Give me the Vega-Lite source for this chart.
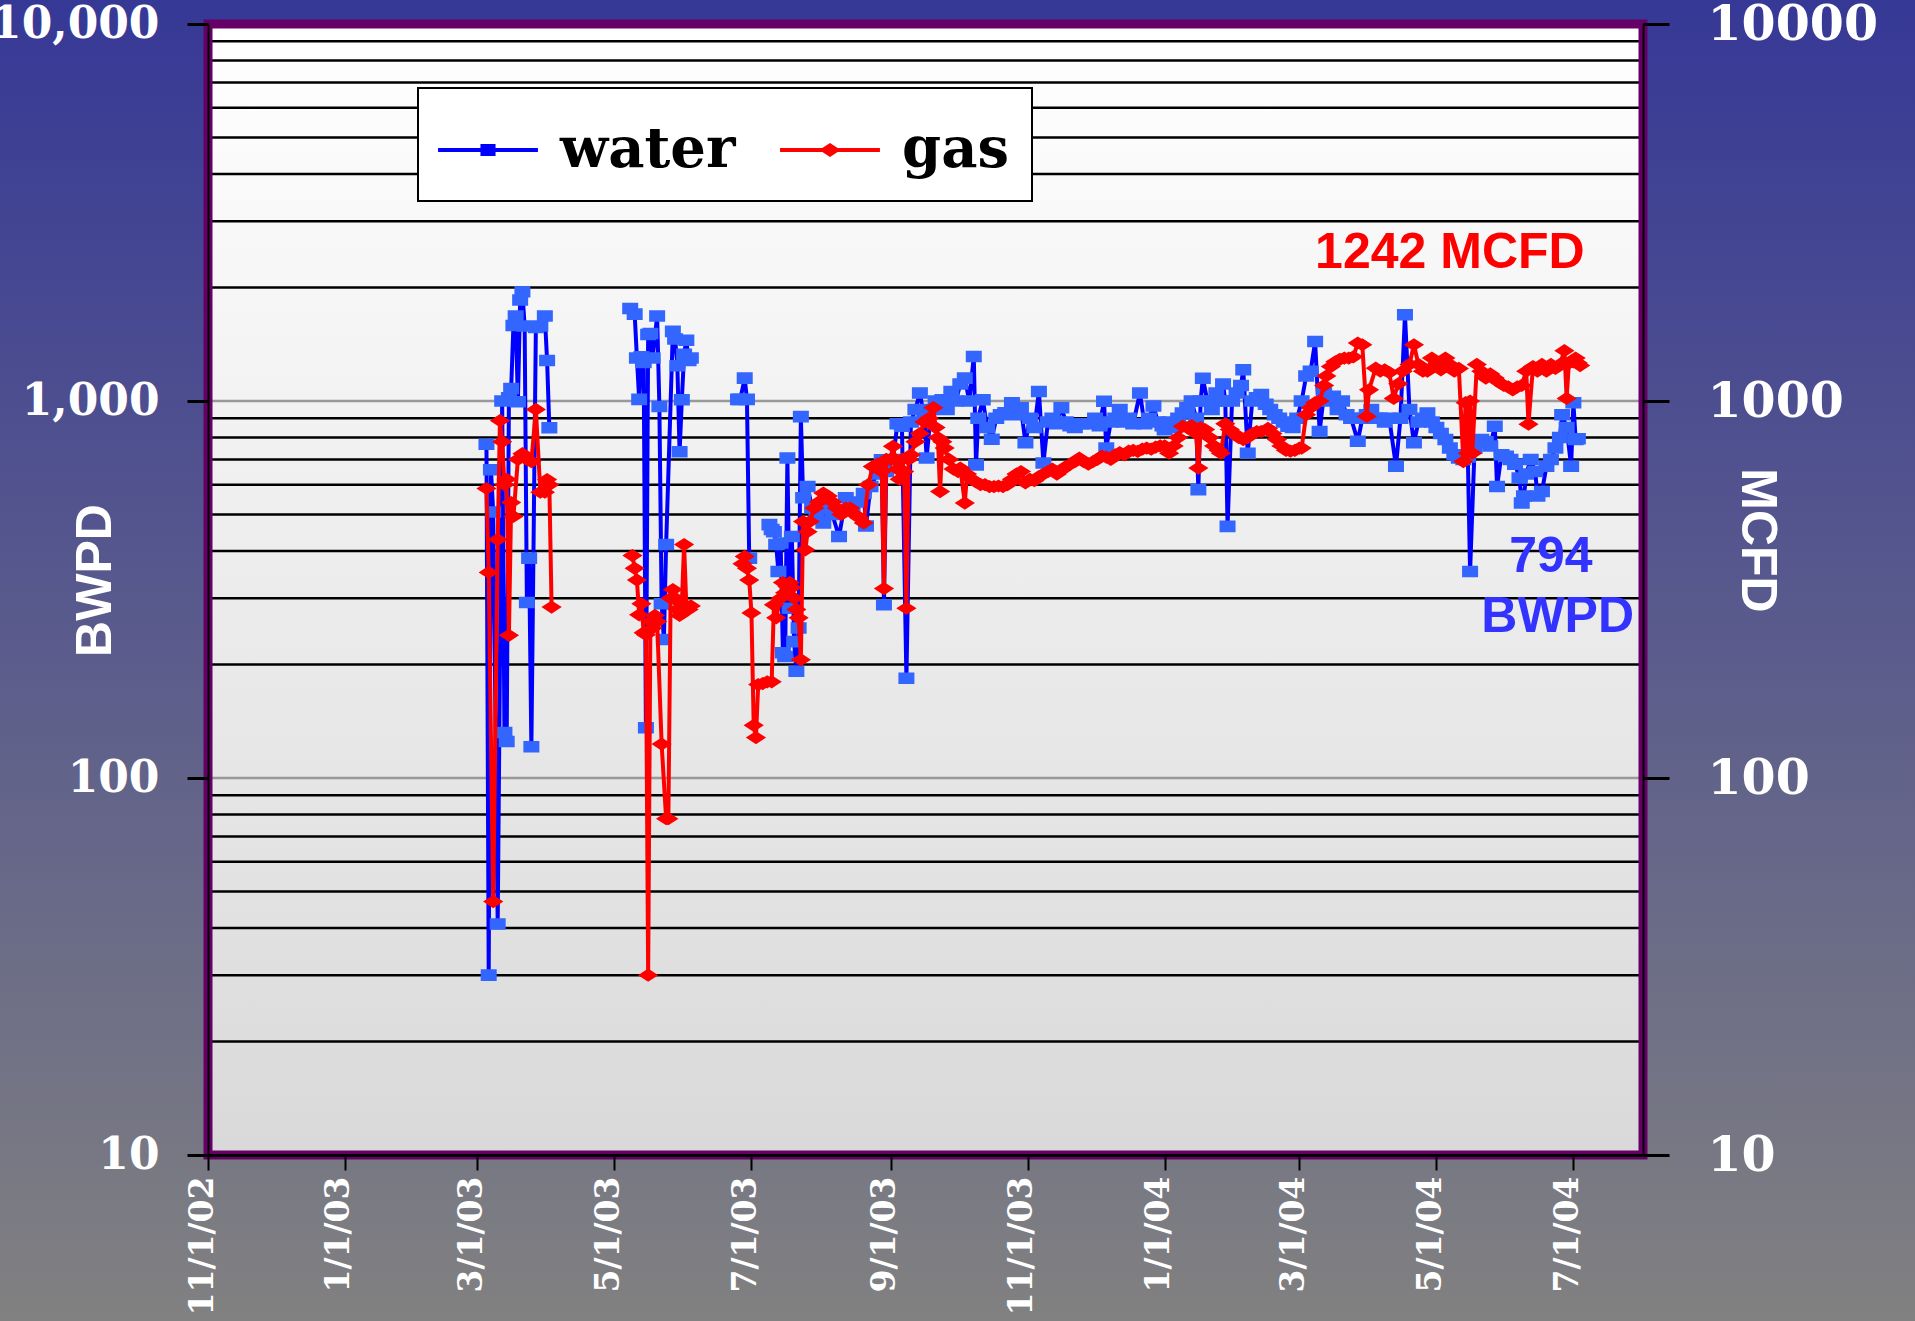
{
"$schema": "https://vega.github.io/schema/vega-lite/v6.json",
"width": 1435, "height": 1131,
"autosize": {"type": "none"},
"padding": {"left": 208, "top": 24, "right": 272, "bottom": 166},
"background": "#5b5b8c",
"config": {"view": {"stroke": null}, "legend": {"strokeWidth": 2}},
"datasets": {
"grid": [{"v":20},{"v":30},{"v":40},{"v":50},{"v":60},{"v":70},{"v":80},{"v":90},{"v":100},{"v":200},{"v":300},{"v":400},{"v":500},{"v":600},{"v":700},{"v":800},{"v":900},{"v":1000},{"v":2000},{"v":3000},{"v":4000},{"v":5000},{"v":6000},{"v":7000},{"v":8000},{"v":9000}],
"water": [
{"date":"2003/03/05","value":768,"seg":1},{"date":"2003/03/06","value":30,"seg":1},{"date":"2003/03/07","value":657,"seg":1},{"date":"2003/03/08","value":508,"seg":1},{"date":"2003/03/10","value":41,"seg":1},{"date":"2003/03/12","value":1000,"seg":1},{"date":"2003/03/13","value":132,"seg":1},{"date":"2003/03/14","value":125,"seg":1},{"date":"2003/03/15","value":1020,"seg":1},{"date":"2003/03/16","value":1080,"seg":1},{"date":"2003/03/17","value":1585,"seg":1},{"date":"2003/03/18","value":1680,"seg":1},{"date":"2003/03/19","value":996,"seg":1},{"date":"2003/03/20","value":1854,"seg":1},{"date":"2003/03/21","value":1950,"seg":1},{"date":"2003/03/22","value":1580,"seg":1},{"date":"2003/03/23","value":292,"seg":1},{"date":"2003/03/24","value":383,"seg":1},{"date":"2003/03/25","value":121,"seg":1},{"date":"2003/03/27","value":1567,"seg":1},{"date":"2003/03/29","value":1580,"seg":1},{"date":"2003/03/31","value":1680,"seg":1},{"date":"2003/04/01","value":1280,"seg":1},{"date":"2003/04/02","value":849,"seg":1},
{"date":"2003/05/08","value":1760,"seg":2},{"date":"2003/05/10","value":1700,"seg":2},{"date":"2003/05/11","value":1300,"seg":2},{"date":"2003/05/12","value":1010,"seg":2},{"date":"2003/05/13","value":1311,"seg":2},{"date":"2003/05/14","value":1265,"seg":2},{"date":"2003/05/15","value":136,"seg":2},{"date":"2003/05/16","value":1500,"seg":2},{"date":"2003/05/17","value":1510,"seg":2},{"date":"2003/05/18","value":1300,"seg":2},{"date":"2003/05/20","value":1680,"seg":2},{"date":"2003/05/21","value":967,"seg":2},{"date":"2003/05/22","value":290,"seg":2},{"date":"2003/05/23","value":233,"seg":2},{"date":"2003/05/24","value":416,"seg":2},{"date":"2003/05/27","value":1530,"seg":2},{"date":"2003/05/28","value":1460,"seg":2},{"date":"2003/05/29","value":1240,"seg":2},{"date":"2003/05/30","value":733,"seg":2},{"date":"2003/05/31","value":1008,"seg":2},{"date":"2003/06/01","value":1330,"seg":2},{"date":"2003/06/02","value":1450,"seg":2},{"date":"2003/06/03","value":1280,"seg":2},{"date":"2003/06/04","value":1300,"seg":2},
{"date":"2003/06/25","value":1010,"seg":3},{"date":"2003/06/26","value":1010,"seg":3},{"date":"2003/06/28","value":1150,"seg":3},{"date":"2003/06/29","value":1010,"seg":3},{"date":"2003/06/30","value":383,"seg":3},
{"date":"2003/07/09","value":470,"seg":4},{"date":"2003/07/10","value":456,"seg":4},{"date":"2003/07/11","value":450,"seg":4},{"date":"2003/07/12","value":416,"seg":4},{"date":"2003/07/13","value":353,"seg":4},{"date":"2003/07/14","value":420,"seg":4},{"date":"2003/07/15","value":215,"seg":4},{"date":"2003/07/16","value":210,"seg":4},{"date":"2003/07/17","value":706,"seg":4},{"date":"2003/07/18","value":282,"seg":4},{"date":"2003/07/19","value":437,"seg":4},{"date":"2003/07/20","value":230,"seg":4},{"date":"2003/07/21","value":192,"seg":4},{"date":"2003/07/22","value":250,"seg":4},{"date":"2003/07/23","value":909,"seg":4},{"date":"2003/07/24","value":554,"seg":4},{"date":"2003/07/26","value":593,"seg":4},{"date":"2003/07/28","value":520,"seg":4},{"date":"2003/07/30","value":500,"seg":4},{"date":"2003/08/02","value":475,"seg":4},{"date":"2003/08/04","value":520,"seg":4},{"date":"2003/08/06","value":500,"seg":4},{"date":"2003/08/09","value":437,"seg":4},{"date":"2003/08/12","value":554,"seg":4},{"date":"2003/08/15","value":520,"seg":4},{"date":"2003/08/18","value":540,"seg":4},{"date":"2003/08/20","value":568,"seg":4},{"date":"2003/08/21","value":466,"seg":4},{"date":"2003/08/23","value":593,"seg":4},{"date":"2003/08/26","value":640,"seg":4},{"date":"2003/08/28","value":698,"seg":4},{"date":"2003/08/29","value":288,"seg":4},{"date":"2003/08/30","value":650,"seg":4},
{"date":"2003/09/02","value":700,"seg":4},{"date":"2003/09/04","value":870,"seg":4},{"date":"2003/09/06","value":857,"seg":4},{"date":"2003/09/08","value":184,"seg":4},{"date":"2003/09/10","value":880,"seg":4},{"date":"2003/09/12","value":950,"seg":4},{"date":"2003/09/14","value":1050,"seg":4},{"date":"2003/09/16","value":900,"seg":4},{"date":"2003/09/17","value":706,"seg":4},{"date":"2003/09/19","value":950,"seg":4},{"date":"2003/09/21","value":1000,"seg":4},{"date":"2003/09/24","value":1008,"seg":4},{"date":"2003/09/26","value":950,"seg":4},{"date":"2003/09/28","value":1060,"seg":4},{"date":"2003/09/30","value":1000,"seg":4},{"date":"2003/10/02","value":1110,"seg":4},{"date":"2003/10/04","value":1150,"seg":4},{"date":"2003/10/06","value":1000,"seg":4},{"date":"2003/10/08","value":1313,"seg":4},{"date":"2003/10/09","value":677,"seg":4},{"date":"2003/10/10","value":900,"seg":4},{"date":"2003/10/12","value":1008,"seg":4},{"date":"2003/10/14","value":850,"seg":4},{"date":"2003/10/16","value":792,"seg":4},{"date":"2003/10/18","value":900,"seg":4},{"date":"2003/10/20","value":920,"seg":4},{"date":"2003/10/22","value":930,"seg":4},{"date":"2003/10/25","value":990,"seg":4},{"date":"2003/10/27","value":920,"seg":4},{"date":"2003/10/29","value":960,"seg":4},{"date":"2003/10/31","value":775,"seg":4},
{"date":"2003/11/02","value":900,"seg":4},{"date":"2003/11/04","value":850,"seg":4},{"date":"2003/11/06","value":1060,"seg":4},{"date":"2003/11/08","value":685,"seg":4},{"date":"2003/11/10","value":880,"seg":4},{"date":"2003/11/12","value":900,"seg":4},{"date":"2003/11/14","value":870,"seg":4},{"date":"2003/11/16","value":960,"seg":4},{"date":"2003/11/18","value":880,"seg":4},{"date":"2003/11/20","value":860,"seg":4},{"date":"2003/11/22","value":850,"seg":4},{"date":"2003/11/25","value":870,"seg":4},{"date":"2003/11/28","value":870,"seg":4},{"date":"2003/12/01","value":900,"seg":4},{"date":"2003/12/03","value":860,"seg":4},{"date":"2003/12/05","value":998,"seg":4},{"date":"2003/12/06","value":750,"seg":4},{"date":"2003/12/08","value":880,"seg":4},{"date":"2003/12/10","value":900,"seg":4},{"date":"2003/12/12","value":950,"seg":4},{"date":"2003/12/14","value":880,"seg":4},{"date":"2003/12/16","value":900,"seg":4},{"date":"2003/12/18","value":870,"seg":4},{"date":"2003/12/21","value":1050,"seg":4},{"date":"2003/12/23","value":870,"seg":4},{"date":"2003/12/25","value":900,"seg":4},{"date":"2003/12/27","value":970,"seg":4},{"date":"2003/12/29","value":880,"seg":4},{"date":"2003/12/31","value":860,"seg":4},
{"date":"2004/01/01","value":839,"seg":4},{"date":"2004/01/03","value":880,"seg":4},{"date":"2004/01/05","value":850,"seg":4},{"date":"2004/01/07","value":900,"seg":4},{"date":"2004/01/09","value":929,"seg":4},{"date":"2004/01/11","value":960,"seg":4},{"date":"2004/01/13","value":1000,"seg":4},{"date":"2004/01/15","value":900,"seg":4},{"date":"2004/01/16","value":582,"seg":4},{"date":"2004/01/17","value":1000,"seg":4},{"date":"2004/01/18","value":1149,"seg":4},{"date":"2004/01/20","value":1000,"seg":4},{"date":"2004/01/22","value":950,"seg":4},{"date":"2004/01/24","value":1050,"seg":4},{"date":"2004/01/26","value":1000,"seg":4},{"date":"2004/01/27","value":1110,"seg":4},{"date":"2004/01/28","value":1000,"seg":4},{"date":"2004/01/29","value":465,"seg":4},{"date":"2004/01/31","value":1000,"seg":4},{"date":"2004/02/02","value":1050,"seg":4},{"date":"2004/02/04","value":1100,"seg":4},{"date":"2004/02/05","value":1211,"seg":4},{"date":"2004/02/07","value":727,"seg":4},{"date":"2004/02/09","value":1000,"seg":4},{"date":"2004/02/11","value":1020,"seg":4},{"date":"2004/02/13","value":1040,"seg":4},{"date":"2004/02/15","value":980,"seg":4},{"date":"2004/02/17","value":950,"seg":4},{"date":"2004/02/19","value":920,"seg":4},{"date":"2004/02/21","value":900,"seg":4},{"date":"2004/02/23","value":880,"seg":4},{"date":"2004/02/25","value":857,"seg":4},{"date":"2004/02/27","value":850,"seg":4},{"date":"2004/02/29","value":900,"seg":4},
{"date":"2004/03/02","value":1000,"seg":4},{"date":"2004/03/04","value":1165,"seg":4},{"date":"2004/03/06","value":1200,"seg":4},{"date":"2004/03/08","value":1438,"seg":4},{"date":"2004/03/10","value":830,"seg":4},{"date":"2004/03/12","value":1050,"seg":4},{"date":"2004/03/14","value":1000,"seg":4},{"date":"2004/03/16","value":1030,"seg":4},{"date":"2004/03/18","value":950,"seg":4},{"date":"2004/03/20","value":1000,"seg":4},{"date":"2004/03/22","value":920,"seg":4},{"date":"2004/03/24","value":900,"seg":4},{"date":"2004/03/27","value":782,"seg":4},{"date":"2004/03/29","value":900,"seg":4},{"date":"2004/03/31","value":920,"seg":4},{"date":"2004/04/02","value":950,"seg":4},{"date":"2004/04/04","value":900,"seg":4},{"date":"2004/04/06","value":900,"seg":4},{"date":"2004/04/08","value":880,"seg":4},{"date":"2004/04/10","value":900,"seg":4},{"date":"2004/04/13","value":671,"seg":4},{"date":"2004/04/15","value":900,"seg":4},{"date":"2004/04/17","value":1693,"seg":4},{"date":"2004/04/19","value":950,"seg":4},{"date":"2004/04/21","value":775,"seg":4},{"date":"2004/04/23","value":880,"seg":4},{"date":"2004/04/25","value":900,"seg":4},{"date":"2004/04/27","value":929,"seg":4},{"date":"2004/04/29","value":880,"seg":4},
{"date":"2004/05/01","value":850,"seg":4},{"date":"2004/05/03","value":820,"seg":4},{"date":"2004/05/05","value":790,"seg":4},{"date":"2004/05/07","value":750,"seg":4},{"date":"2004/05/09","value":720,"seg":4},{"date":"2004/05/11","value":706,"seg":4},{"date":"2004/05/13","value":700,"seg":4},{"date":"2004/05/15","value":710,"seg":4},{"date":"2004/05/16","value":353,"seg":4},{"date":"2004/05/18","value":750,"seg":4},{"date":"2004/05/21","value":790,"seg":4},{"date":"2004/05/23","value":780,"seg":4},{"date":"2004/05/25","value":760,"seg":4},{"date":"2004/05/27","value":857,"seg":4},{"date":"2004/05/28","value":593,"seg":4},{"date":"2004/05/30","value":720,"seg":4},{"date":"2004/06/01","value":714,"seg":4},{"date":"2004/06/03","value":700,"seg":4},{"date":"2004/06/05","value":680,"seg":4},{"date":"2004/06/07","value":625,"seg":4},{"date":"2004/06/08","value":536,"seg":4},{"date":"2004/06/09","value":560,"seg":4},{"date":"2004/06/10","value":640,"seg":4},{"date":"2004/06/12","value":700,"seg":4},{"date":"2004/06/14","value":650,"seg":4},{"date":"2004/06/15","value":560,"seg":4},{"date":"2004/06/17","value":575,"seg":4},{"date":"2004/06/19","value":671,"seg":4},{"date":"2004/06/21","value":700,"seg":4},{"date":"2004/06/23","value":750,"seg":4},{"date":"2004/06/25","value":800,"seg":4},{"date":"2004/06/26","value":920,"seg":4},{"date":"2004/06/28","value":850,"seg":4},{"date":"2004/06/30","value":671,"seg":4},{"date":"2004/07/01","value":990,"seg":4},{"date":"2004/07/02","value":790,"seg":4},{"date":"2004/07/03","value":794,"seg":4}
],
"gas": [
{"date":"2003/03/05","value":586,"seg":1},{"date":"2003/03/06","value":351,"seg":1},{"date":"2003/03/08","value":47,"seg":1},{"date":"2003/03/10","value":429,"seg":1},{"date":"2003/03/11","value":887,"seg":1},{"date":"2003/03/12","value":780,"seg":1},{"date":"2003/03/13","value":600,"seg":1},{"date":"2003/03/14","value":620,"seg":1},{"date":"2003/03/15","value":239,"seg":1},{"date":"2003/03/16","value":538,"seg":1},{"date":"2003/03/17","value":494,"seg":1},{"date":"2003/03/19","value":700,"seg":1},{"date":"2003/03/21","value":725,"seg":1},{"date":"2003/03/23","value":700,"seg":1},{"date":"2003/03/25","value":690,"seg":1},{"date":"2003/03/27","value":950,"seg":1},{"date":"2003/03/29","value":573,"seg":1},{"date":"2003/03/31","value":573,"seg":1},{"date":"2003/04/01","value":619,"seg":1},{"date":"2003/04/02","value":600,"seg":1},{"date":"2003/04/03","value":284,"seg":1},
{"date":"2003/05/09","value":389,"seg":2},{"date":"2003/05/10","value":360,"seg":2},{"date":"2003/05/11","value":335,"seg":2},{"date":"2003/05/12","value":271,"seg":2},{"date":"2003/05/13","value":290,"seg":2},{"date":"2003/05/14","value":243,"seg":2},{"date":"2003/05/15","value":240,"seg":2},{"date":"2003/05/16","value":30,"seg":2},{"date":"2003/05/17","value":260,"seg":2},{"date":"2003/05/18","value":250,"seg":2},{"date":"2003/05/19","value":270,"seg":2},{"date":"2003/05/20","value":260,"seg":2},{"date":"2003/05/22","value":123,"seg":2},{"date":"2003/05/24","value":78,"seg":2},{"date":"2003/05/25","value":78,"seg":2},{"date":"2003/05/26","value":300,"seg":2},{"date":"2003/05/27","value":316,"seg":2},{"date":"2003/05/28","value":300,"seg":2},{"date":"2003/05/29","value":280,"seg":2},{"date":"2003/05/30","value":270,"seg":2},{"date":"2003/05/31","value":290,"seg":2},{"date":"2003/06/01","value":416,"seg":2},{"date":"2003/06/02","value":286,"seg":2},{"date":"2003/06/03","value":280,"seg":2},{"date":"2003/06/04","value":286,"seg":2},
{"date":"2003/06/27","value":370,"seg":3},{"date":"2003/06/28","value":387,"seg":3},{"date":"2003/06/29","value":360,"seg":3},{"date":"2003/06/30","value":335,"seg":3},{"date":"2003/07/01","value":274,"seg":3},{"date":"2003/07/02","value":138,"seg":3},{"date":"2003/07/03","value":128,"seg":3},{"date":"2003/07/04","value":177,"seg":3},{"date":"2003/07/06","value":178,"seg":3},{"date":"2003/07/08","value":180,"seg":3},{"date":"2003/07/10","value":180,"seg":3},{"date":"2003/07/11","value":288,"seg":3},{"date":"2003/07/12","value":266,"seg":3},{"date":"2003/07/14","value":300,"seg":3},{"date":"2003/07/15","value":330,"seg":3},{"date":"2003/07/16","value":310,"seg":3},{"date":"2003/07/17","value":322,"seg":3},{"date":"2003/07/18","value":330,"seg":3},{"date":"2003/07/19","value":320,"seg":3},{"date":"2003/07/20","value":300,"seg":3},{"date":"2003/07/21","value":280,"seg":3},{"date":"2003/07/22","value":266,"seg":3},{"date":"2003/07/23","value":206,"seg":3},{"date":"2003/07/24","value":479,"seg":3},{"date":"2003/07/25","value":403,"seg":3},{"date":"2003/07/26","value":450,"seg":3},{"date":"2003/07/27","value":479,"seg":3},{"date":"2003/07/29","value":520,"seg":3},{"date":"2003/07/31","value":540,"seg":3},{"date":"2003/08/02","value":570,"seg":3},{"date":"2003/08/04","value":560,"seg":3},{"date":"2003/08/06","value":540,"seg":3},{"date":"2003/08/08","value":520,"seg":3},{"date":"2003/08/10","value":500,"seg":3},{"date":"2003/08/12","value":520,"seg":3},{"date":"2003/08/14","value":520,"seg":3},{"date":"2003/08/16","value":500,"seg":3},{"date":"2003/08/18","value":490,"seg":3},{"date":"2003/08/20","value":475,"seg":3},{"date":"2003/08/22","value":600,"seg":3},{"date":"2003/08/24","value":670,"seg":3},{"date":"2003/08/26","value":680,"seg":3},{"date":"2003/08/28","value":650,"seg":3},{"date":"2003/08/29","value":318,"seg":3},{"date":"2003/08/30","value":700,"seg":3},{"date":"2003/09/01","value":700,"seg":3},
{"date":"2003/09/02","value":758,"seg":3},{"date":"2003/09/03","value":700,"seg":3},{"date":"2003/09/04","value":660,"seg":3},{"date":"2003/09/05","value":620,"seg":3},{"date":"2003/09/06","value":700,"seg":3},{"date":"2003/09/07","value":650,"seg":3},{"date":"2003/09/08","value":282,"seg":3},{"date":"2003/09/09","value":700,"seg":3},{"date":"2003/09/10","value":720,"seg":3},{"date":"2003/09/12","value":780,"seg":3},{"date":"2003/09/14","value":820,"seg":3},{"date":"2003/09/16","value":880,"seg":3},{"date":"2003/09/18","value":900,"seg":3},{"date":"2003/09/20","value":960,"seg":3},{"date":"2003/09/21","value":850,"seg":3},{"date":"2003/09/22","value":800,"seg":3},{"date":"2003/09/23","value":575,"seg":3},{"date":"2003/09/24","value":780,"seg":3},{"date":"2003/09/25","value":750,"seg":3},{"date":"2003/09/27","value":700,"seg":3},{"date":"2003/09/29","value":660,"seg":3},{"date":"2003/10/01","value":650,"seg":3},{"date":"2003/10/02","value":664,"seg":3},{"date":"2003/10/04","value":536,"seg":3},{"date":"2003/10/05","value":640,"seg":3},{"date":"2003/10/07","value":620,"seg":3},{"date":"2003/10/09","value":610,"seg":3},{"date":"2003/10/11","value":600,"seg":3},{"date":"2003/10/13","value":600,"seg":3},{"date":"2003/10/15","value":593,"seg":3},{"date":"2003/10/17","value":593,"seg":3},{"date":"2003/10/19","value":595,"seg":3},{"date":"2003/10/21","value":593,"seg":3},{"date":"2003/10/23","value":600,"seg":3},{"date":"2003/10/25","value":620,"seg":3},{"date":"2003/10/27","value":640,"seg":3},{"date":"2003/10/29","value":650,"seg":3},{"date":"2003/10/31","value":606,"seg":3},
{"date":"2003/11/02","value":620,"seg":3},{"date":"2003/11/04","value":615,"seg":3},{"date":"2003/11/06","value":630,"seg":3},{"date":"2003/11/08","value":640,"seg":3},{"date":"2003/11/10","value":650,"seg":3},{"date":"2003/11/12","value":660,"seg":3},{"date":"2003/11/14","value":640,"seg":3},{"date":"2003/11/16","value":655,"seg":3},{"date":"2003/11/18","value":670,"seg":3},{"date":"2003/11/20","value":680,"seg":3},{"date":"2003/11/22","value":690,"seg":3},{"date":"2003/11/24","value":706,"seg":3},{"date":"2003/11/26","value":690,"seg":3},{"date":"2003/11/28","value":680,"seg":3},{"date":"2003/11/30","value":690,"seg":3},{"date":"2003/12/02","value":700,"seg":3},{"date":"2003/12/04","value":714,"seg":3},{"date":"2003/12/06","value":710,"seg":3},{"date":"2003/12/08","value":700,"seg":3},{"date":"2003/12/10","value":720,"seg":3},{"date":"2003/12/12","value":730,"seg":3},{"date":"2003/12/14","value":720,"seg":3},{"date":"2003/12/16","value":736,"seg":3},{"date":"2003/12/18","value":740,"seg":3},{"date":"2003/12/20","value":735,"seg":3},{"date":"2003/12/22","value":745,"seg":3},{"date":"2003/12/24","value":750,"seg":3},{"date":"2003/12/26","value":745,"seg":3},{"date":"2003/12/28","value":755,"seg":3},{"date":"2003/12/30","value":760,"seg":3},
{"date":"2004/01/01","value":760,"seg":3},{"date":"2004/01/03","value":727,"seg":3},{"date":"2004/01/05","value":760,"seg":3},{"date":"2004/01/07","value":800,"seg":3},{"date":"2004/01/09","value":857,"seg":3},{"date":"2004/01/11","value":850,"seg":3},{"date":"2004/01/13","value":860,"seg":3},{"date":"2004/01/15","value":820,"seg":3},{"date":"2004/01/16","value":664,"seg":3},{"date":"2004/01/17","value":850,"seg":3},{"date":"2004/01/19","value":840,"seg":3},{"date":"2004/01/21","value":800,"seg":3},{"date":"2004/01/23","value":760,"seg":3},{"date":"2004/01/25","value":740,"seg":3},{"date":"2004/01/26","value":727,"seg":3},{"date":"2004/01/28","value":870,"seg":3},{"date":"2004/01/30","value":840,"seg":3},{"date":"2004/02/01","value":820,"seg":3},{"date":"2004/02/03","value":800,"seg":3},{"date":"2004/02/05","value":790,"seg":3},{"date":"2004/02/07","value":800,"seg":3},{"date":"2004/02/09","value":820,"seg":3},{"date":"2004/02/11","value":830,"seg":3},{"date":"2004/02/13","value":830,"seg":3},{"date":"2004/02/16","value":846,"seg":3},{"date":"2004/02/18","value":820,"seg":3},{"date":"2004/02/20","value":790,"seg":3},{"date":"2004/02/22","value":760,"seg":3},{"date":"2004/02/24","value":740,"seg":3},{"date":"2004/02/26","value":736,"seg":3},{"date":"2004/02/28","value":740,"seg":3},
{"date":"2004/03/01","value":750,"seg":3},{"date":"2004/03/02","value":750,"seg":3},{"date":"2004/03/04","value":920,"seg":3},{"date":"2004/03/06","value":960,"seg":3},{"date":"2004/03/08","value":990,"seg":3},{"date":"2004/03/10","value":1000,"seg":3},{"date":"2004/03/12","value":1100,"seg":3},{"date":"2004/03/13","value":1165,"seg":3},{"date":"2004/03/15","value":1234,"seg":3},{"date":"2004/03/17","value":1270,"seg":3},{"date":"2004/03/19","value":1290,"seg":3},{"date":"2004/03/21","value":1300,"seg":3},{"date":"2004/03/23","value":1300,"seg":3},{"date":"2004/03/25","value":1310,"seg":3},{"date":"2004/03/27","value":1425,"seg":3},{"date":"2004/03/29","value":1410,"seg":3},{"date":"2004/03/31","value":910,"seg":3},{"date":"2004/04/01","value":1071,"seg":3},{"date":"2004/04/04","value":1222,"seg":3},{"date":"2004/04/06","value":1200,"seg":3},{"date":"2004/04/08","value":1210,"seg":3},{"date":"2004/04/10","value":1190,"seg":3},{"date":"2004/04/12","value":1016,"seg":3},{"date":"2004/04/14","value":1111,"seg":3},{"date":"2004/04/16","value":1200,"seg":3},{"date":"2004/04/19","value":1250,"seg":3},{"date":"2004/04/21","value":1410,"seg":3},{"date":"2004/04/23","value":1250,"seg":3},{"date":"2004/04/25","value":1200,"seg":3},{"date":"2004/04/27","value":1200,"seg":3},{"date":"2004/04/29","value":1300,"seg":3},
{"date":"2004/05/01","value":1250,"seg":3},{"date":"2004/05/03","value":1210,"seg":3},{"date":"2004/05/05","value":1300,"seg":3},{"date":"2004/05/07","value":1250,"seg":3},{"date":"2004/05/09","value":1200,"seg":3},{"date":"2004/05/11","value":1220,"seg":3},{"date":"2004/05/13","value":691,"seg":3},{"date":"2004/05/14","value":990,"seg":3},{"date":"2004/05/15","value":727,"seg":3},{"date":"2004/05/16","value":1000,"seg":3},{"date":"2004/05/17","value":727,"seg":3},{"date":"2004/05/19","value":1250,"seg":3},{"date":"2004/05/21","value":1200,"seg":3},{"date":"2004/05/23","value":1150,"seg":3},{"date":"2004/05/25","value":1180,"seg":3},{"date":"2004/05/27","value":1150,"seg":3},{"date":"2004/05/29","value":1120,"seg":3},{"date":"2004/05/31","value":1100,"seg":3},{"date":"2004/06/02","value":1090,"seg":3},{"date":"2004/06/04","value":1070,"seg":3},{"date":"2004/06/06","value":1090,"seg":3},{"date":"2004/06/08","value":1100,"seg":3},{"date":"2004/06/10","value":1200,"seg":3},{"date":"2004/06/11","value":868,"seg":3},{"date":"2004/06/13","value":1234,"seg":3},{"date":"2004/06/15","value":1200,"seg":3},{"date":"2004/06/17","value":1250,"seg":3},{"date":"2004/06/19","value":1200,"seg":3},{"date":"2004/06/21","value":1250,"seg":3},{"date":"2004/06/23","value":1220,"seg":3},{"date":"2004/06/25","value":1250,"seg":3},{"date":"2004/06/27","value":1360,"seg":3},{"date":"2004/06/28","value":1016,"seg":3},{"date":"2004/06/29","value":1260,"seg":3},{"date":"2004/07/01","value":1270,"seg":3},{"date":"2004/07/02","value":1300,"seg":3},{"date":"2004/07/03","value":1262,"seg":3},{"date":"2004/07/04","value":1242,"seg":3}
]
},
"layer": [
{"data": {"values": [{}]},
 "mark": {"type": "rect", "fill": {"gradient": "linear", "x1": 0, "y1": 0, "x2": 0, "y2": 1, "stops": [{"offset": 0, "color": "#363896"}, {"offset": 1, "color": "#818181"}]}},
 "encoding": {
  "x": {"datum": {"year": 2002, "month": 1, "date": 1}, "type": "temporal", "scale": {"domain": [{"year": 2002, "month": 11, "date": 1}, {"year": 2004, "month": 8, "date": 1}], "nice": false}, "axis": null},
  "x2": {"datum": {"year": 2005, "month": 6, "date": 1}},
  "y": {"datum": 11578, "type": "quantitative", "scale": {"type": "log", "domain": [10, 10000], "nice": false}, "axis": null},
  "y2": {"datum": 3.628}}},
{"data": {"values": [{}]},
 "mark": {"type": "rect", "fill": {"gradient": "linear", "x1": 0, "y1": 0, "x2": 0, "y2": 1, "stops": [{"offset": 0, "color": "#ffffff"}, {"offset": 1, "color": "#d9d9d9"}]}},
 "encoding": {
  "x": {"datum": {"year": 2002, "month": 11, "date": 1}, "type": "temporal", "axis": null},
  "x2": {"datum": {"year": 2004, "month": 8, "date": 1}},
  "y": {"datum": 10000, "type": "quantitative", "axis": null},
  "y2": {"datum": 10}}},
{"data": {"name": "grid"},
 "mark": {"type": "rule", "strokeWidth": 2.5},
 "encoding": {
  "y": {"field": "v", "type": "quantitative", "axis": null},
  "color": {"condition": {"test": "datum.v === 100 || datum.v === 1000", "value": "#999999"}, "value": "#000000"}}},
{"data": {"values": [{}]},
 "mark": {"type": "rect", "filled": false, "color": "#660066", "strokeWidth": 9},
 "encoding": {
  "x": {"datum": {"year": 2002, "month": 11, "date": 1}, "type": "temporal", "axis": null},
  "x2": {"datum": {"year": 2004, "month": 8, "date": 1}},
  "y": {"datum": 10000, "type": "quantitative", "axis": null},
  "y2": {"datum": 10}}},
{"data": {"name": "water"},
 "mark": {"type": "line", "strokeWidth": 4, "strokeJoin": "round"},
 "encoding": {
  "x": {"field": "date", "type": "temporal", "axis": {"orient": "bottom", "values": [{"year": 2002, "month": 11, "date": 1}, {"year": 2003, "month": 1, "date": 1}, {"year": 2003, "month": 3, "date": 1}, {"year": 2003, "month": 5, "date": 1}, {"year": 2003, "month": 7, "date": 1}, {"year": 2003, "month": 9, "date": 1}, {"year": 2003, "month": 11, "date": 1}, {"year": 2004, "month": 1, "date": 1}, {"year": 2004, "month": 3, "date": 1}, {"year": 2004, "month": 5, "date": 1}, {"year": 2004, "month": 7, "date": 1}], "format": "%-m/%-d/%y", "labelAngle": -90, "labelAlign": "right", "labelBaseline": "middle", "labelFont": "DejaVu Serif", "labelFontWeight": "bold", "labelFontSize": 33, "labelColor": "#ffffff", "labelPadding": 6, "labelOffset": -6, "labelFlush": false, "labelOverlap": false, "tickSize": 15, "tickWidth": 2, "tickColor": "#000000", "domainColor": "#000000", "domainWidth": 3, "grid": false, "title": null, "zindex": 1}},
  "y": {"field": "value", "type": "quantitative", "axis": {"orient": "left", "values": [10, 100, 1000, 10000], "format": ",", "grid": false, "zindex": 1, "domainColor": "#000000", "domainWidth": 2, "tickColor": "#000000", "tickWidth": 3, "tickSize": 21, "labelFont": "DejaVu Serif", "labelFontWeight": "bold", "labelFontSize": 44, "labelColor": "#ffffff", "labelPadding": 28, "labelOverlap": false, "labelFlush": false, "labelBaseline": "middle", "title": "BWPD", "titleFont": "Liberation Sans", "titleFontSize": 50, "titleFontWeight": "bold", "titleColor": "#ffffff", "titleAngle": -90, "titleX": -113, "titleY": 556, "titleAlign": "center", "titleBaseline": "middle"}},
  "detail": {"field": "seg"},
  "color": {"datum": "water", "type": "nominal", "scale": {"domain": ["water", "gas"], "range": ["#0000ff", "#ff0000"]},
   "legend": {"orient": "none", "legendX": 210, "legendY": 64, "direction": "horizontal", "title": null, "fillColor": "#ffffff", "strokeColor": "#000000", "padding": 23, "symbolType": "M-1,0H1", "symbolSize": 5476, "symbolStrokeWidth": 4, "symbolOffset": 8, "labelFont": "DejaVu Serif", "labelFontWeight": "bold", "labelFontSize": 56, "labelColor": "#000000", "labelOffset": 33, "labelLimit": 400, "columnPadding": 36}}}},
{"data": {"name": "water"},
 "mark": {"type": "point", "filled": true, "size": 11378, "color": "#3366ff", "strokeWidth": 0, "opacity": 1},
 "encoding": {
  "x": {"field": "date", "type": "temporal", "axis": null},
  "y": {"field": "value", "type": "quantitative", "axis": null},
  "shape": {"datum": "water", "type": "nominal", "scale": {"domain": ["water", "gas"], "range": ["M-1.35,0H1.35M-0.15,-0.108H0.15V0.108H-0.15Z", "M-1.35,0H1.35M-0.19,0L0,-0.124L0.19,0L0,0.124Z"]}}}},
{"data": {"name": "gas"},
 "mark": {"type": "line", "strokeWidth": 4, "strokeJoin": "round"},
 "encoding": {
  "x": {"field": "date", "type": "temporal", "axis": null},
  "y": {"field": "value", "type": "quantitative", "axis": {"orient": "right", "values": [10, 100, 1000, 10000], "format": "d", "grid": false, "zindex": 1, "domainColor": "#000000", "domainWidth": 2, "tickColor": "#000000", "tickWidth": 3, "tickSize": 26, "labelFont": "DejaVu Serif", "labelFontWeight": "bold", "labelFontSize": 49, "labelColor": "#ffffff", "labelPadding": 38, "labelOverlap": false, "labelFlush": false, "labelBaseline": "middle", "title": "MCFD", "titleFont": "Liberation Sans", "titleFontSize": 50, "titleFontWeight": "bold", "titleColor": "#ffffff", "titleAngle": 90, "titleX": 113, "titleY": 516, "titleAlign": "center", "titleBaseline": "middle"}},
  "detail": {"field": "seg"},
  "color": {"datum": "gas", "type": "nominal", "scale": {"domain": ["water", "gas"], "range": ["#0000ff", "#ff0000"]}}}},
{"data": {"name": "gas"},
 "mark": {"type": "point", "filled": true, "size": 11378, "color": "#ff0000", "strokeWidth": 0, "opacity": 1},
 "encoding": {
  "x": {"field": "date", "type": "temporal", "axis": null},
  "y": {"field": "value", "type": "quantitative", "axis": null},
  "shape": {"datum": "gas", "type": "nominal", "scale": {"domain": ["water", "gas"], "range": ["M-1.35,0H1.35M-0.15,-0.108H0.15V0.108H-0.15Z", "M-1.35,0H1.35M-0.19,0L0,-0.124L0.19,0L0,0.124Z"]}}}},
{"data": {"values": [{}]},
 "mark": {"type": "text", "text": "1242 MCFD", "font": "Liberation Sans", "fontWeight": "bold", "fontSize": 50, "color": "#ff0000", "align": "center", "baseline": "middle"},
 "encoding": {
  "x": {"datum": {"year": 2004, "month": 5, "date": 7}, "type": "temporal", "axis": null},
  "y": {"datum": 2470, "type": "quantitative", "axis": null}}},
{"data": {"values": [{}]},
 "mark": {"type": "text", "text": "794", "font": "Liberation Sans", "fontWeight": "bold", "fontSize": 50, "color": "#3333ff", "align": "center", "baseline": "middle"},
 "encoding": {
  "x": {"datum": {"year": 2004, "month": 6, "date": 21}, "type": "temporal", "axis": null},
  "y": {"datum": 385, "type": "quantitative", "axis": null}}},
{"data": {"values": [{}]},
 "mark": {"type": "text", "text": "BWPD", "font": "Liberation Sans", "fontWeight": "bold", "fontSize": 50, "color": "#3333ff", "align": "center", "baseline": "middle"},
 "encoding": {
  "x": {"datum": {"year": 2004, "month": 6, "date": 24}, "type": "temporal", "axis": null},
  "y": {"datum": 267, "type": "quantitative", "axis": null}}}
],
"resolve": {"axis": {"x": "independent", "y": "independent"}}
}
